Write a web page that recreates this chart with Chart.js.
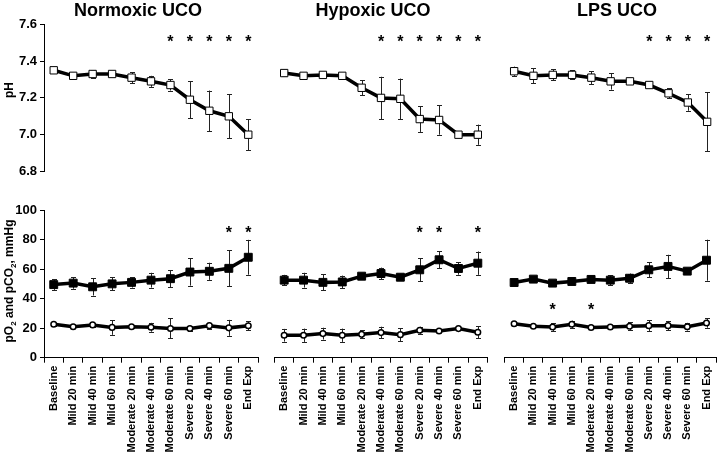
<!DOCTYPE html>
<html><head><meta charset="utf-8">
<script src="https://cdn.jsdelivr.net/npm/chart.js@4"></script>
<style>
html,body{margin:0;padding:0;background:#fff;}
#wrap{position:relative;width:723px;height:458px;overflow:hidden;font-family:"Liberation Sans",Arial,sans-serif;color:#000;}
#wrap canvas{position:absolute;left:0;top:0;}
.title{position:absolute;top:1px;font-weight:bold;font-size:18px;line-height:18px;transform:translateX(-50%);white-space:nowrap;}
.ytitle{position:absolute;font-weight:bold;font-size:12px;line-height:12px;white-space:nowrap;transform:translate(-50%,-50%) rotate(-90deg);}
.ytitle sub{font-size:8px;line-height:0;}
</style></head>
<body>
<div id="wrap">
  <canvas id="c1" width="723" height="458"></canvas>
  <canvas id="c2" width="723" height="458"></canvas>
  <canvas id="c3" width="723" height="458"></canvas>
  <canvas id="c4" width="723" height="458"></canvas>
  <canvas id="c5" width="723" height="458"></canvas>
  <canvas id="c6" width="723" height="458"></canvas>
  <div class="title" style="left:138px">Normoxic UCO</div>
  <div class="title" style="left:373px">Hypoxic UCO</div>
  <div class="title" style="left:617px">LPS UCO</div>
  <div class="ytitle" style="left:9px;top:90px">pH</div>
  <div class="ytitle" style="left:9px;top:281px">pO<sub>2</sub> and pCO<sub>2</sub>, mmHg</div>
</div>
<script>
// ---------- data ----------
const categories = ['Baseline','Mild 20 min','Mild 40 min','Mild 60 min','Moderate 20 min','Moderate 40 min','Moderate 60 min','Severe 20 min','Severe 40 min','Severe 60 min','End Exp'];
const phTicks = [6.8, 7.0, 7.2, 7.4, 7.6];
const gasTicks = [0, 20, 40, 60, 80, 100];

const normoxicPH    = [7.35, 7.32, 7.33, 7.33, 7.31, 7.29, 7.27, 7.19, 7.13, 7.10, 7.00];
const normoxicPHErr = [0.01, 0.01, 0.02, 0.01, 0.03, 0.03, 0.03, 0.10, 0.11, 0.12, 0.085];
const hypoxicPH     = [7.335, 7.32, 7.325, 7.32, 7.255, 7.20, 7.195, 7.085, 7.08, 7.00, 7.00];
const hypoxicPHErr  = [0.015, 0.005, 0.005, 0.005, 0.04, 0.115, 0.11, 0.07, 0.08, 0.005, 0.055];
const lpsPH         = [7.345, 7.32, 7.325, 7.325, 7.31, 7.29, 7.29, 7.27, 7.225, 7.175, 7.07];
const lpsPHErr      = [0.025, 0.04, 0.03, 0.025, 0.035, 0.045, 0.005, 0.005, 0.027, 0.045, 0.16];

const normoxicPCO2    = [49.5, 50.5, 48, 50, 51, 52.5, 53.5, 58, 58.5, 60.5, 68];
const normoxicPCO2Err = [3.6, 3.8, 5.9, 4.3, 3.5, 5, 5.7, 9.2, 5.8, 12.2, 11.8];
const normoxicPO2     = [22.6, 21, 22.2, 20.5, 21, 20.6, 19.8, 19.8, 21.7, 20.2, 21.6];
const normoxicPO2Err  = [1, 0.8, 1.2, 5, 0.8, 3, 6.8, 2, 2, 5.4, 3];

const hypoxicPCO2    = [52.5, 52.5, 51, 51.3, 55.2, 57, 54.5, 59.5, 66.3, 60.4, 64];
const hypoxicPCO2Err = [3.6, 5, 5.4, 4.3, 1.5, 4, 1.5, 7.7, 5.7, 4.2, 7.9];
const hypoxicPO2     = [15.2, 15.2, 16.3, 15.2, 15.8, 17, 15.6, 18.6, 18.1, 19.7, 17.2];
const hypoxicPO2Err  = [4.3, 4.5, 4, 4.5, 2.7, 4, 4.5, 2.4, 0.8, 0.8, 4];

const lpsPCO2    = [50.9, 53.2, 50.5, 51.6, 53, 52.5, 53.8, 59.5, 61.8, 58.6, 66];
const lpsPCO2Err = [1, 1, 1, 1, 1, 3.4, 3.2, 5, 7.9, 1, 13.9];
const lpsPO2     = [23, 21.3, 20.8, 22.6, 20.4, 20.8, 21.3, 21.7, 21.7, 21, 23.5];
const lpsPO2Err  = [0.8, 0.8, 2.7, 2.5, 0.8, 0.8, 2.6, 3.6, 3.2, 2.6, 3.2];

// significance markers (*)
const normoxicPHSig  = [0,0,0,0,0,0,1,1,1,1,1];
const hypoxicPHSig   = [0,0,0,0,0,1,1,1,1,1,1];
const lpsPHSig       = [0,0,0,0,0,0,0,1,1,1,1];
const normoxicGasSig = [0,0,0,0,0,0,0,0,0,1,1];
const hypoxicGasSig  = [0,0,0,0,0,0,0,1,1,0,1];
const lpsGasSig      = [0,0,1,0,1,0,0,0,0,0,0];

// ---------- helpers ----------
const FONT = '"Liberation Sans", Arial, sans-serif';
const W = 723, H = 458;
const Y_W = 30, X_H = 100;

const errorBars = {
  id: 'errorBars',
  beforeDatasetsDraw(chart) {
    const ctx = chart.ctx, ys = chart.scales.y;
    chart.data.datasets.forEach((ds, di) => {
      if (!ds.errors) return;
      const meta = chart.getDatasetMeta(di);
      ctx.save();
      ctx.strokeStyle = '#222';
      ctx.lineWidth = 1;
      meta.data.forEach((pt, i) => {
        const e = ds.errors[i];
        if (!e) return;
        const v = ds.data[i];
        const y1 = ys.getPixelForValue(v + e), y2 = ys.getPixelForValue(v - e);
        const x = Math.round(pt.x) + 0.5;
        ctx.beginPath();
        ctx.moveTo(x, y1); ctx.lineTo(x, y2);
        ctx.moveTo(x - 2.5, Math.round(y1) + 0.5); ctx.lineTo(x + 2.5, Math.round(y1) + 0.5);
        ctx.moveTo(x - 2.5, Math.round(y2) + 0.5); ctx.lineTo(x + 2.5, Math.round(y2) + 0.5);
        ctx.stroke();
      });
      ctx.restore();
    });
  }
};

function starsPlugin(flags, level) {
  return {
    id: 'stars',
    afterDatasetsDraw(chart) {
      const ctx = chart.ctx, xs = chart.scales.x, ys = chart.scales.y;
      ctx.save();
      ctx.font = 'bold 16px ' + FONT;
      ctx.fillStyle = '#000';
      ctx.textAlign = 'center';
      ctx.textBaseline = 'alphabetic';
      const m = ctx.measureText('*');
      const off = (m.actualBoundingBoxAscent - m.actualBoundingBoxDescent) / 2;
      flags.forEach((f, i) => {
        if (!f) return;
        ctx.fillText('*', xs.getPixelForValue(i), ys.getPixelForValue(level) + off);
      });
      ctx.restore();
    }
  };
}

function lineDs(data, errors, style) {
  const base = {
    data: data,
    errors: errors,
    borderColor: '#000',
    borderWidth: 3.5,
    tension: 0,
    pointBorderColor: '#000',
    pointBorderWidth: 1,
    pointHoverRadius: 0
  };
  if (style === 'openSquare') Object.assign(base, {pointStyle: 'rect', pointRadius: 5.2, pointBackgroundColor: '#fff'});
  if (style === 'filledSquare') Object.assign(base, {pointStyle: 'rect', pointRadius: 5.6, pointBackgroundColor: '#000'});
  if (style === 'openCircle') Object.assign(base, {pointStyle: 'circle', pointRadius: 2.8, pointBorderWidth: 1.5, pointBackgroundColor: '#fff'});
  return base;
}

function panel(id, area, opt) {
  const pad = {
    left: area.left - (opt.showY ? Y_W : 0),
    right: W - area.right,
    top: area.top,
    bottom: Math.max(0, H - area.bottom - (opt.showX ? X_H : 0))
  };
  new Chart(document.getElementById(id), {
    type: 'line',
    data: { labels: categories, datasets: opt.datasets },
    options: {
      responsive: false,
      animation: false,
      events: [],
      layout: { padding: pad },
      plugins: { legend: { display: false }, tooltip: { enabled: false }, title: { display: false } },
      scales: {
        x: {
          type: 'category',
          offset: true,
          display: opt.showX,
          afterFit: s => { if (opt.showX) s.height = X_H; },
          border: { display: true, color: '#000', width: 1 },
          grid: { offset: true, drawOnChartArea: false, drawTicks: true, tickLength: 5, tickColor: '#000', lineWidth: 1 },
          ticks: {
            autoSkip: false, minRotation: 90, maxRotation: 90, padding: 3,
            color: '#000', font: { family: FONT, size: 11, weight: 'bold' }
          }
        },
        y: {
          type: 'linear',
          display: opt.showY,
          min: opt.ticks[0],
          max: opt.ticks[opt.ticks.length - 1],
          afterFit: s => { if (opt.showY) s.width = Y_W; },
          afterBuildTicks: s => { s.ticks = opt.ticks.map(v => ({ value: v })); },
          border: { display: true, color: '#000', width: 1 },
          grid: { drawOnChartArea: false, drawTicks: true, tickLength: 4, tickColor: '#000' },
          ticks: {
            padding: 3, color: '#000',
            font: { family: FONT, size: 13, weight: 'bold' },
            callback: v => opt.decimals ? Number(v).toFixed(opt.decimals) : String(v)
          }
        }
      }
    },
    plugins: [errorBars, starsPlugin(opt.sig, opt.starLevel)]
  });
}

const rowTop = { top: 24.3, bottom: 171.5 };
const rowBot = { top: 210, bottom: 357.7 };
const colL = { left: 44, right: 258 };
const colM = { left: 274.5, right: 487.5 };
const colR = { left: 504.5, right: 718.5 };

panel('c1', Object.assign({}, colL, rowTop), { showY: true, showX: false, ticks: phTicks, decimals: 1, sig: normoxicPHSig, starLevel: 7.525,
  datasets: [lineDs(normoxicPH, normoxicPHErr, 'openSquare')] });
panel('c2', Object.assign({}, colM, rowTop), { showY: false, showX: false, ticks: phTicks, decimals: 1, sig: hypoxicPHSig, starLevel: 7.525,
  datasets: [lineDs(hypoxicPH, hypoxicPHErr, 'openSquare')] });
panel('c3', Object.assign({}, colR, rowTop), { showY: false, showX: false, ticks: phTicks, decimals: 1, sig: lpsPHSig, starLevel: 7.525,
  datasets: [lineDs(lpsPH, lpsPHErr, 'openSquare')] });

panel('c4', Object.assign({}, colL, rowBot), { showY: true, showX: true, ticks: gasTicks, decimals: 0, sig: normoxicGasSig, starLevel: 86.5,
  datasets: [lineDs(normoxicPO2, normoxicPO2Err, 'openCircle'), lineDs(normoxicPCO2, normoxicPCO2Err, 'filledSquare')] });
panel('c5', Object.assign({}, colM, rowBot), { showY: false, showX: true, ticks: gasTicks, decimals: 0, sig: hypoxicGasSig, starLevel: 86.5,
  datasets: [lineDs(hypoxicPO2, hypoxicPO2Err, 'openCircle'), lineDs(hypoxicPCO2, hypoxicPCO2Err, 'filledSquare')] });
panel('c6', Object.assign({}, colR, rowBot), { showY: false, showX: true, ticks: gasTicks, decimals: 0, sig: lpsGasSig, starLevel: 35,
  datasets: [lineDs(lpsPO2, lpsPO2Err, 'openCircle'), lineDs(lpsPCO2, lpsPCO2Err, 'filledSquare')] });
</script>
</body></html>
